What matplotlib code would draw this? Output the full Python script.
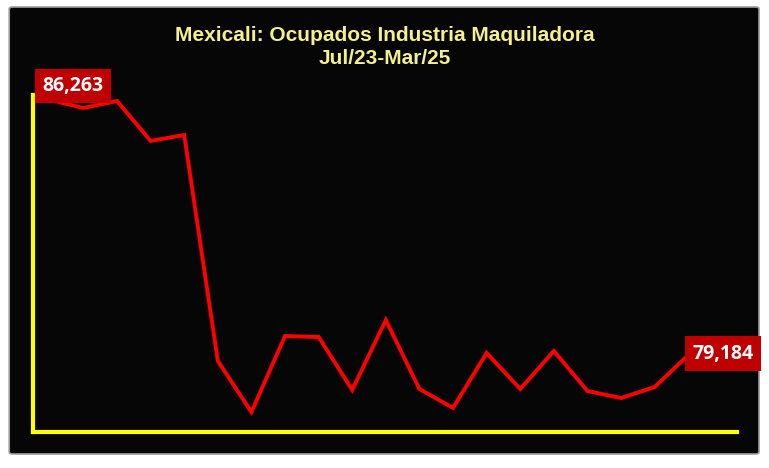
import numpy as np
import matplotlib.pyplot as plt
from matplotlib.patches import FancyBboxPatch

# Empleo maquilador, Mexicali (Jul/23 - Mar/25)
valores = [86263, 86040, 86235, 85125, 85290, 79020, 77600, 79710, 79685, 78215,
           80155, 78240, 77715, 79240, 78240, 79295, 78185, 77990, 78295, 79184]
titulo = "Mexicali: Ocupados Industria Maquiladora\nJul/23-Mar/25"

x = np.arange(len(valores))

fig = plt.figure(figsize=(7.69, 4.68), dpi=100)
fig.patch.set_facecolor("white")

# panel negro con borde gris
panel = FancyBboxPatch((0.012, 0.03), 0.975, 0.955, boxstyle="round,pad=0,rounding_size=0.004",
                       transform=fig.transFigure, facecolor="#060606", edgecolor="#9a9a9a",
                       linewidth=1.2, zorder=-5)
fig.patches.append(panel)

ax = fig.add_axes([33 / 769, 1 - 432 / 468, (737 - 33) / 769, (432 - 95) / 468])
ax.set_zorder(2)
ax.set_facecolor("none")
ax.plot(x, valores, color="#ff0000", linewidth=2.8, solid_joinstyle="miter", zorder=3)
ax.set_xlim(-0.5, 20.45)
ax.set_ylim(77047, 86400)

for s in ["top", "right"]:
    ax.spines[s].set_visible(False)
for s in ["left", "bottom"]:
    ax.spines[s].set_color("#ffff00")
    ax.spines[s].set_linewidth(3)
ax.set_xticks([])
ax.set_yticks([])

caja = dict(boxstyle="square,pad=0.38", facecolor="#c00000", edgecolor="none")
ax.annotate(f"{valores[0]:,}", (x[0], valores[0]), xytext=(16.5, 10), textcoords="offset points",
            ha="center", va="center", color="white", fontsize=14, fontweight="bold",
            family="Open Sans", bbox=caja, zorder=4)
ax.annotate(f"{valores[-1]:,}", (x[-1], valores[-1]), xytext=(25, 1), textcoords="offset points",
            ha="center", va="center", color="white", fontsize=14, fontweight="bold",
            family="Open Sans", bbox=caja, zorder=4, annotation_clip=False)

fig.text(385 / 769, 1 - 47 / 468, titulo, ha="center", va="center", color="#f5f08c",
         fontsize=15, fontweight="bold", family="Liberation Sans", linespacing=1.3)

fig.savefig("out.png", dpi=100, facecolor=fig.get_facecolor())
